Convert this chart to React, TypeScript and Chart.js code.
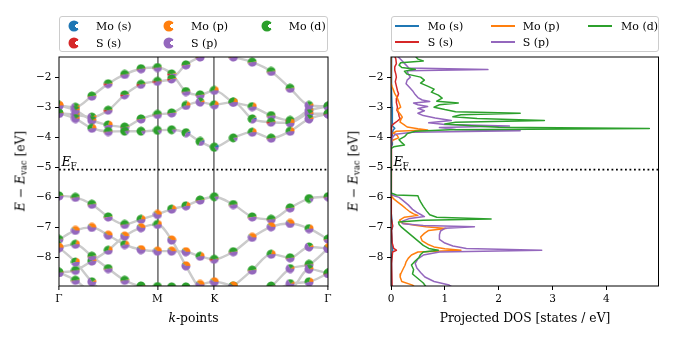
import React, { useEffect, useRef } from "react";
import { Chart, registerables } from "chart.js";

Chart.register(...registerables);

const FONT = "'DejaVu Serif', serif";
const C_MOS = "#1f77b4";
const C_MOP = "#ff7f0e";
const C_MOD = "#2ca02c";
const C_SS = "#d62728";
const C_SP = "#9467bd";

// ---------- band structure ----------
const kTickPos = [0, 0.866, 1.366, 2.366];
const kTickLabels = ["Γ", "M", "K", "Γ"];
const kPath = [0, 0.1443, 0.2887, 0.433, 0.5774, 0.7217, 0.866, 0.991, 1.116, 1.241, 1.366, 1.5327, 1.6993, 1.866, 2.0327, 2.1993, 2.366];
const energyTicks = [-8, -7, -6, -5, -4, -3, -2];
const eFermi = -5.08;
const eMin = -8.95;
const eMax = -1.33;

const cb1 = [-2.94, -3.0, -2.63, -2.22, -1.91, -1.72, -1.68, -1.89, -2.48, -2.59, -2.44, -2.83, -2.98, -3.28, -3.44, -3.11, -2.97];
const cb2 = [-3.2, -3.25, -3.33, -3.1, -2.59, -2.24, -2.14, -2.06, -1.59, -1.33, -1.15, -1.33, -1.5, -1.81, -2.37, -2.94, -2.97];
const cb3 = [-2.94, -3.1, -3.44, -3.59, -3.66, -3.39, -3.24, -3.19, -2.94, -2.83, -2.92, -2.83, -3.39, -3.5, -3.52, -3.22, -3.22];
const cb4 = [-3.2, -3.38, -3.7, -3.81, -3.8, -3.8, -3.77, -3.75, -3.85, -4.14, -4.33, -4.02, -3.83, -4.03, -3.8, -3.39, -3.22];
const vb1 = [-5.95, -6.0, -6.23, -6.65, -6.9, -6.73, -6.57, -6.39, -6.28, -6.09, -5.98, -6.24, -6.65, -6.73, -6.35, -6.04, -5.98];
const vb2 = [-7.4, -7.1, -7.0, -7.26, -7.57, -7.74, -7.79, -7.79, -7.81, -7.96, -8.06, -7.81, -7.33, -6.98, -6.87, -7.04, -7.39];
const vb3 = [-8.5, -8.43, -8.12, -7.76, -7.29, -7.01, -6.9, -7.42, -8.28, -9.05, -9.3, -8.95, -8.42, -7.89, -8.01, -7.65, -7.7];
const vb4 = [-7.67, -7.56, -7.96, -8.37, -8.76, -8.95, -8.97, -8.98, -8.98, -8.9, -8.81, -8.95, -9.1, -9.15, -8.87, -8.81, -8.53];
const vb5 = [-7.67, -8.15, -8.81, -9.3, -9.6, -9.8, -9.9, -9.8, -9.6, -9.5, -9.4, -9.3, -9.1, -8.95, -8.37, -8.23, -7.7];
const vb6 = [-8.5, -8.76, -9.2, -9.5, -9.7, -9.8, -9.9, -9.9, -9.8, -9.7, -9.6, -9.5, -9.3, -9.2, -9.1, -8.39, -8.53];

// orbital character code of every marker, one letter per k-point
const cb1Comp = "mpgrgggrggmgmgrpp";
const cb2Comp = "gpprrrrrgggggggpm";
const cb3Comp = "mppmggggmpmmbrmpp";
const cb4Comp = "gpmgGGGGbbkGmgmpg";
const vb1Comp = "gggggmommgGggggGg";
const vb2Comp = "Gooomoooomrgooomg";
const vb3Comp = "ggmmoomoommggmgpo";
const vb4Comp = "omgggggggoooogpmg";
const vb5Comp = "ompppppppppppGpgo";
const vb6Comp = "ggppppppppppppppg";

// weights [Mo s, Mo p, Mo d, S s, S p]
const compTable: Record<string, number[]> = {
  g: [0, 0.03, 0.5, 0.02, 0.45],
  G: [0.02, 0.02, 0.8, 0, 0.16],
  p: [0, 0.08, 0.25, 0, 0.67],
  o: [0, 0.38, 0.04, 0, 0.58],
  m: [0, 0.2, 0.35, 0, 0.45],
  r: [0, 0.04, 0.45, 0.08, 0.43],
  k: [0.1, 0, 0.75, 0, 0.15],
  b: [0.06, 0.03, 0.6, 0, 0.31],
};

// ---------- projected DOS ----------
const dosTicks = [0, 1, 2, 3, 4];
const dosMax = 4.97;

const moDE = [-1.3, -1.4, -1.46, -1.52, -1.6, -1.68, -1.74, -1.8, -1.9, -2.0, -2.1, -2.2, -2.3, -2.4, -2.5, -2.6, -2.7, -2.8, -2.86, -2.92, -3.0, -3.08, -3.15, -3.2, -3.25, -3.32, -3.38, -3.44, -3.5, -3.56, -3.62, -3.67, -3.71, -3.75, -3.8, -3.88, -3.98, -4.08, -4.18, -4.26, -4.32, -4.38, -5.85, -5.92, -5.95, -6.05, -6.15, -6.3, -6.45, -6.58, -6.66, -6.72, -6.76, -6.82, -6.9, -7.0, -7.15, -7.3, -7.45, -7.6, -7.7, -7.76, -7.82, -7.9, -8.0, -8.12, -8.25, -8.4, -8.55, -8.7, -8.85, -9.0];
const moDDos = [0.45, 0.5, 0.6, 0.18, 0.15, 0.2, 0.45, 0.25, 0.3, 0.55, 0.62, 0.55, 0.68, 0.8, 0.75, 0.88, 0.95, 0.85, 1.25, 0.9, 0.8, 1.0, 1.2, 2.4, 1.3, 1.15, 1.6, 2.85, 1.2, 1.0, 1.5, 2.0, 4.8, 1.1, 0.45, 0.3, 0.25, 0.15, 0.2, 0.25, 0.05, 0, 0, 0.1, 0.5, 0.52, 0.55, 0.6, 0.66, 0.72, 0.85, 1.86, 0.6, 0.14, 0.15, 0.2, 0.3, 0.4, 0.5, 0.6, 0.7, 0.88, 0.6, 0.55, 0.52, 0.45, 0.38, 0.42, 0.4, 0.5, 0.6, 0.66];

const sPE = [-1.3, -1.45, -1.6, -1.7, -1.75, -1.79, -1.9, -2.0, -2.1, -2.22, -2.35, -2.45, -2.58, -2.68, -2.76, -2.81, -2.86, -2.92, -2.98, -3.04, -3.12, -3.2, -3.28, -3.36, -3.44, -3.52, -3.58, -3.63, -3.68, -3.74, -3.78, -3.83, -3.9, -4.0, -4.2, -5.85, -5.93, -6.0, -6.1, -6.25, -6.4, -6.5, -6.58, -6.64, -6.7, -6.8, -6.88, -6.94, -6.98, -7.03, -7.12, -7.25, -7.4, -7.52, -7.62, -7.7, -7.76, -7.82, -7.92, -8.05, -8.2, -8.35, -8.5, -8.65, -8.8, -8.92, -9.0];
const sPDos = [0.12, 0.2, 0.28, 0.33, 1.8, 0.3, 0.32, 0.36, 0.3, 0.28, 0.35, 0.4, 0.45, 0.5, 0.58, 0.72, 0.42, 0.5, 0.68, 0.5, 0.62, 0.5, 0.6, 0.82, 1.12, 0.7, 1.0, 2.2, 0.9, 1.2, 2.4, 0.4, 0.08, 0.03, 0, 0, 0.03, 0.15, 0.22, 0.32, 0.4, 0.48, 0.56, 0.62, 0.35, 0.2, 0.22, 0.6, 1.55, 1.0, 0.92, 0.9, 0.9, 1.0, 1.15, 1.4, 2.8, 0.9, 0.6, 0.5, 0.45, 0.48, 0.55, 0.63, 0.8, 1.08, 1.15];

const moPE = [-1.3, -2.2, -2.32, -2.45, -2.55, -2.7, -2.8, -2.9, -3.0, -3.08, -3.16, -3.25, -3.33, -3.42, -3.5, -3.58, -3.66, -3.72, -3.76, -3.8, -3.86, -3.95, -4.02, -4.1, -4.2, -5.85, -5.95, -6.05, -6.15, -6.26, -6.38, -6.48, -6.55, -6.6, -6.66, -6.76, -6.85, -6.93, -6.98, -7.04, -7.1, -7.2, -7.32, -7.45, -7.56, -7.65, -7.71, -7.76, -7.82, -7.92, -8.03, -8.15, -8.26, -8.4, -8.55, -8.65, -8.8, -8.92, -9.0];
const moPDos = [0, 0, 0.02, 0.05, 0.07, 0.12, 0.14, 0.16, 0.18, 0.12, 0.14, 0.18, 0.21, 0.18, 0.17, 0.24, 0.3, 0.5, 0.68, 0.1, 0.04, 0.12, 0.14, 0.03, 0, 0, 0.01, 0.05, 0.12, 0.2, 0.28, 0.35, 0.42, 0.5, 0.25, 0.16, 0.2, 0.45, 0.65, 1.02, 0.7, 0.62, 0.55, 0.58, 0.68, 0.8, 1.0, 1.3, 0.5, 0.38, 0.32, 0.28, 0.26, 0.22, 0.18, 0.17, 0.2, 0.4, 0.45];

const sSE = [-1.3, -1.4, -1.55, -1.66, -1.77, -1.9, -2.0, -2.15, -2.3, -2.45, -2.55, -2.7, -2.85, -3.0, -3.1, -3.2, -3.3, -3.38, -3.46, -3.54, -3.6, -3.7, -3.9, -5.85, -6.0, -6.4, -6.7, -6.95, -7.1, -7.5, -7.7, -7.76, -7.82, -8.2, -9.0];
const sSDos = [0.07, 0.09, 0.1, 0.07, 0.07, 0.09, 0.1, 0.08, 0.1, 0.12, 0.14, 0.11, 0.1, 0.12, 0.11, 0.14, 0.15, 0.17, 0.12, 0.06, 0.02, 0.01, 0, 0, 0.005, 0.01, 0.015, 0.03, 0.01, 0.02, 0.05, 0.1, 0.03, 0.01, 0.02];

const moSE = [-1.3, -2.5, -3.0, -3.4, -3.62, -3.7, -3.76, -3.9, -4.1, -4.25, -4.33, -5.85, -6.5, -6.98, -7.1, -7.76, -8.0, -9.0];
const moSDos = [0.01, 0.01, 0.02, 0.02, 0.03, 0.07, 0.04, 0.02, 0.02, 0.03, 0, 0, 0.005, 0.03, 0.01, 0.03, 0.01, 0.01];

const bandSets = [
  { e: cb1, comp: cb1Comp }, { e: cb2, comp: cb2Comp }, { e: cb3, comp: cb3Comp }, { e: cb4, comp: cb4Comp },
  { e: vb1, comp: vb1Comp }, { e: vb2, comp: vb2Comp }, { e: vb3, comp: vb3Comp },
  { e: vb4, comp: vb4Comp }, { e: vb5, comp: vb5Comp }, { e: vb6, comp: vb6Comp },
];

const pieColors = [C_MOS, C_MOP, C_MOD, C_SS, C_SP];

function makePie(fr: number[]): HTMLCanvasElement {
  const c = document.createElement("canvas");
  c.width = 10;
  c.height = 10;
  const ctx = c.getContext("2d")!;
  const total = fr.reduce((a, b) => a + b, 0);
  let a0 = 0;
  fr.forEach((f, i) => {
    if (f <= 0) return;
    const a1 = a0 + (f / total) * Math.PI * 2;
    ctx.beginPath();
    ctx.moveTo(5, 5);
    ctx.arc(5, 5, 4.5, -a0, -a1, true);
    ctx.closePath();
    ctx.fillStyle = pieColors[i];
    ctx.fill();
    a0 = a1;
  });
  return c;
}

const framePlugin = {
  id: "frame",
  afterDatasetsDraw(chart: any) {
    const { ctx, chartArea: a } = chart;
    ctx.save();
    ctx.strokeStyle = "#000";
    ctx.lineWidth = 1;
    ctx.strokeRect(a.left, a.top, a.right - a.left, a.bottom - a.top);
    ctx.restore();
  },
};

const efLabelPlugin = {
  id: "efLabel",
  afterDatasetsDraw(chart: any) {
    const { ctx, chartArea } = chart;
    const y = chart.scales.y.getPixelForValue(eFermi);
    ctx.save();
    ctx.fillStyle = "#000";
    ctx.textBaseline = "alphabetic";
    ctx.textAlign = "left";
    ctx.font = `italic 13px ${FONT}`;
    const x0 = chartArea.left + 2.5;
    ctx.fillText("E", x0, y - 3.5);
    const w = ctx.measureText("E").width;
    ctx.font = `9px ${FONT}`;
    ctx.fillText("F", x0 + w - 0.5, y - 1);
    ctx.restore();
  },
};

const tickFont = { family: FONT, size: 10.5 };

function yAxis(width: number) {
  return {
    type: "linear" as const,
    min: eMin,
    max: eMax,
    afterBuildTicks: (s: any) => {
      s.ticks = energyTicks.map((v) => ({ value: v }));
    },
    afterFit: (s: any) => {
      s.width = width;
    },
    ticks: {
      autoSkip: false,
      font: tickFont,
      color: "#000",
      padding: 3.5,
      callback: (v: any) => (v < 0 ? "\u2212" + Math.abs(v) : String(v)),
    },
    grid: { drawOnChartArea: false, drawTicks: true, tickLength: 4, tickColor: "#000", tickWidth: 1 },
    border: { display: false },
  };
}

export default function App() {
  const leftRef = useRef<HTMLCanvasElement>(null);
  const rightRef = useRef<HTMLCanvasElement>(null);

  useEffect(() => {
    const pies: Record<string, HTMLCanvasElement> = {};
    Object.keys(compTable).forEach((k) => (pies[k] = makePie(compTable[k])));

    const markerPts: { x: number; y: number }[] = [];
    const markerStyles: HTMLCanvasElement[] = [];
    bandSets.forEach((b) => {
      b.e.forEach((e, i) => {
        if (e < eMin - 0.2 || e > eMax + 0.2) return;
        markerPts.push({ x: kPath[i], y: e });
        markerStyles.push(pies[b.comp[i]]);
      });
    });

    const bandLines = bandSets.map((b) => ({
      data: b.e.map((e, i) => ({ x: kPath[i], y: e })),
      showLine: true,
      borderColor: "#cbcbcb",
      borderWidth: 2.4,
      pointRadius: 0,
      cubicInterpolationMode: "monotone",
      capBezierPoints: false,
      clip: 0,
      order: 3,
    }));

    const left = new Chart(leftRef.current!, {
      type: "scatter",
      data: {
        datasets: [
          {
            data: markerPts,
            pointStyle: markerStyles as any,
            pointRadius: 4.5,
            showLine: false,
            clip: 0,
            order: 0,
          } as any,
          {
            data: [
              { x: kTickPos[0], y: eFermi },
              { x: kTickPos[3], y: eFermi },
            ],
            showLine: true,
            borderColor: "#000",
            borderWidth: 1.8,
            borderDash: [1.8, 2.7],
            pointRadius: 0,
            clip: 0,
            order: 1,
          } as any,
          ...(bandLines as any[]),
        ],
      },
      options: {
        animation: false,
        responsive: false,
        events: [],
        layout: { padding: { left: 0, right: 12, top: 57, bottom: 0 } },
        plugins: { legend: { display: false }, tooltip: { enabled: false } },
        scales: {
          x: {
            type: "linear",
            min: kTickPos[0],
            max: kTickPos[3],
            afterBuildTicks: (s: any) => {
              s.ticks = kTickPos.map((v) => ({ value: v }));
            },
            afterFit: (s: any) => {
              s.height = 54;
            },
            ticks: {
              autoSkip: false,
              maxRotation: 0,
              font: tickFont,
              color: "#000",
              padding: 2.5,
              callback: (_v: any, i: number) => kTickLabels[i],
            },
            grid: {
              color: (c: any) => (c.index === 1 || c.index === 2 ? "#808080" : "rgba(0,0,0,0)"),
              lineWidth: 1.8,
              drawTicks: true,
              tickLength: 4,
              tickColor: "#000",
              tickWidth: 1,
            },
            border: { display: false },
          },
          y: yAxis(59) as any,
        },
      },
      plugins: [framePlugin, efLabelPlugin],
    } as any);

    const dosLine = (xs: number[], es: number[], color: string, order: number) => ({
      data: es.map((e, i) => ({ x: xs[i], y: e })),
      showLine: true,
      borderColor: color,
      borderWidth: 1.5,
      borderJoinStyle: "round",
      pointRadius: 0,
      clip: 0,
      order,
    });

    const right = new Chart(rightRef.current!, {
      type: "scatter",
      data: {
        datasets: [
          {
            data: [
              { x: 0, y: eFermi },
              { x: dosMax, y: eFermi },
            ],
            showLine: true,
            borderColor: "#000",
            borderWidth: 1.8,
            borderDash: [1.8, 2.7],
            pointRadius: 0,
            clip: 0,
            order: 0,
          } as any,
          dosLine(moDDos, moDE, C_MOD, 1) as any,
          dosLine(sPDos, sPE, C_SP, 2) as any,
          dosLine(moPDos, moPE, C_MOP, 3) as any,
          dosLine(sSDos, sSE, C_SS, 4) as any,
          dosLine(moSDos, moSE, C_MOS, 5) as any,
        ],
      },
      options: {
        animation: false,
        responsive: false,
        events: [],
        layout: { padding: { left: 0, right: 16.5, top: 57, bottom: 0 } },
        plugins: { legend: { display: false }, tooltip: { enabled: false } },
        scales: {
          x: {
            type: "linear",
            min: 0,
            max: dosMax,
            afterBuildTicks: (s: any) => {
              s.ticks = dosTicks.map((v) => ({ value: v }));
            },
            afterFit: (s: any) => {
              s.height = 54;
            },
            ticks: { autoSkip: false, maxRotation: 0, font: tickFont, color: "#000", padding: 2.5 },
            grid: { drawOnChartArea: false, drawTicks: true, tickLength: 4, tickColor: "#000", tickWidth: 1 },
            border: { display: false },
          },
          y: yAxis(51) as any,
        },
      },
      plugins: [framePlugin, efLabelPlugin],
    } as any);

    return () => {
      left.destroy();
      right.destroy();
    };
  }, []);

  const txt: React.CSSProperties = {
    position: "absolute",
    fontFamily: FONT,
    fontSize: 11,
    lineHeight: "13px",
    whiteSpace: "nowrap",
    transform: "translateY(-50%)",
    color: "#000",
  };
  const titleTxt: React.CSSProperties = { ...txt, fontSize: 12.3, lineHeight: "15px" };
  const sub: React.CSSProperties = { fontSize: 8.5, verticalAlign: "-2px", lineHeight: 0 };
  const pac = (color: string): React.CSSProperties => ({
    position: "absolute",
    width: 11,
    height: 11,
    borderRadius: "50%",
    transform: "translate(-50%,-50%)",
    background: `conic-gradient(${color} 0deg 58deg, transparent 58deg 122deg, ${color} 122deg 360deg)`,
  });
  const lineIcon = (color: string): React.CSSProperties => ({
    position: "absolute",
    width: 24,
    height: 2,
    background: color,
    transform: "translateY(-50%)",
  });
  const box: React.CSSProperties = {
    position: "absolute",
    top: 15.5,
    height: 36,
    boxSizing: "border-box",
    border: "1px solid #cccccc",
    borderRadius: 3,
    background: "rgba(255,255,255,0.8)",
  };

  const leftLegend = [
    { label: "Mo (s)", color: C_MOS, x: 14.3, tx: 36, y: 9.5 },
    { label: "S (s)", color: C_SS, x: 14.3, tx: 36, y: 26 },
    { label: "Mo (p)", color: C_MOP, x: 109.3, tx: 131, y: 9.5 },
    { label: "S (p)", color: C_SP, x: 109.3, tx: 131, y: 26 },
    { label: "Mo (d)", color: C_MOD, x: 206.7, tx: 228.7, y: 9.5 },
  ];
  const rightLegend = [
    { label: "Mo (s)", color: C_MOS, x: 3, tx: 35.7, y: 9 },
    { label: "S (s)", color: C_SS, x: 3, tx: 35.7, y: 25 },
    { label: "Mo (p)", color: C_MOP, x: 99, tx: 130.7, y: 9 },
    { label: "S (p)", color: C_SP, x: 99, tx: 130.7, y: 25 },
    { label: "Mo (d)", color: C_MOD, x: 196, tx: 229, y: 9 },
  ];

  const yTitle = (
    <>
      <i>E</i> − <i>E</i>
      <sub style={sub}>vac</sub> [eV]
    </>
  );

  return (
    <div style={{ position: "absolute", left: 0, top: 0, width: 675, height: 340, background: "#fff", overflow: "hidden" }}>
      <canvas ref={leftRef} width={340} height={340} style={{ position: "absolute", left: 0, top: 0, width: 340, height: 340 }} />
      <canvas ref={rightRef} width={335} height={340} style={{ position: "absolute", left: 340, top: 0, width: 335, height: 340 }} />

      <div style={{ ...box, left: 59, width: 269 }}>
        {leftLegend.map((it) => (
          <React.Fragment key={it.label}>
            <div style={{ ...pac(it.color), left: it.x, top: it.y }} />
            <div style={{ ...txt, left: it.tx, top: it.y }}>{it.label}</div>
          </React.Fragment>
        ))}
      </div>
      <div style={{ ...box, left: 391, width: 268 }}>
        {rightLegend.map((it) => (
          <React.Fragment key={it.label}>
            <div style={{ ...lineIcon(it.color), left: it.x, top: it.y }} />
            <div style={{ ...txt, left: it.tx, top: it.y }}>{it.label}</div>
          </React.Fragment>
        ))}
      </div>

      <div style={{ ...titleTxt, left: 21, top: 171, transform: "translate(-50%,-50%) rotate(-90deg)" }}>{yTitle}</div>
      <div style={{ ...titleTxt, left: 354, top: 171, transform: "translate(-50%,-50%) rotate(-90deg)" }}>{yTitle}</div>
      <div style={{ ...titleTxt, left: 193.5, top: 318, transform: "translate(-50%,-50%)" }}>
        <i>k</i>-points
      </div>
      <div style={{ ...titleTxt, left: 525, top: 318, transform: "translate(-50%,-50%)" }}>Projected DOS [states / eV]</div>
    </div>
  );
}
